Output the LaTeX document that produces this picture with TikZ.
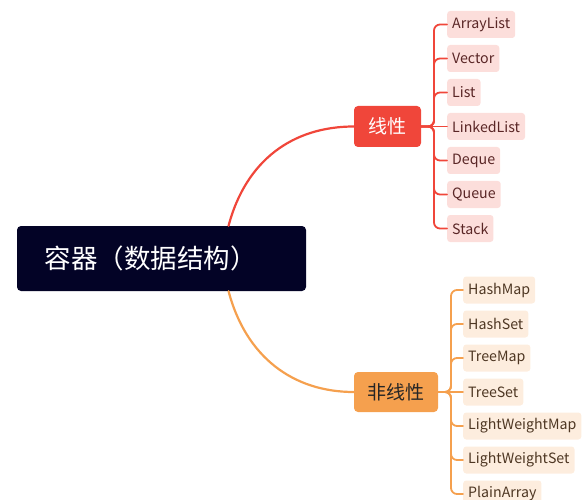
\documentclass[tikz,border=0pt]{standalone}
\usepackage{fontspec}
\setmainfont{Noto Sans CJK SC}
\usepackage{tikz}
\usetikzlibrary{positioning}
\definecolor{rootblue}{RGB}{3,3,38}
\definecolor{linred}{RGB}{240,70,58}
\definecolor{linpink}{RGB}{252,222,219}
\definecolor{lintext}{RGB}{90,38,38}
\definecolor{nonorange}{RGB}{245,160,78}
\definecolor{nonpeach}{RGB}{253,237,222}
\definecolor{nontext}{RGB}{78,55,35}

\begin{document}
\begin{tikzpicture}[x=1pt,y=-1pt, line cap=round,
    rootbox/.style={fill=rootblue,text=white,rounded corners=4pt,minimum width=289pt,minimum height=65pt,inner xsep=28pt,text width=233pt,align=left,font=\fontsize{26.5}{30}\selectfont},
    linbox/.style={fill=linred,text=white,rounded corners=4pt,minimum width=67pt,minimum height=41pt,font=\fontsize{19}{22}\selectfont},
    nonbox/.style={fill=nonorange,text=black!85,rounded corners=4pt,minimum width=84pt,minimum height=40pt,font=\fontsize{19}{22}\selectfont},
    leafr/.style={fill=linpink,text=lintext,anchor=west,rounded corners=3pt,minimum height=27pt,inner xsep=5pt,font=\fontsize{14.2}{17}\selectfont},
    leafo/.style={fill=nonpeach,text=nontext,anchor=west,rounded corners=3pt,minimum height=27pt,inner xsep=5pt,font=\fontsize{14.2}{17}\selectfont},
    redline/.style={draw=linred,line width=1.8pt,rounded corners=6pt},
    orangeline/.style={draw=nonorange,line width=1.8pt,rounded corners=6pt}]
        \clip (0,0) rectangle (584,500);
        \node[rootbox]   (root)   at (161.5,258.5) {容器（数据结构）};
        \node[linbox]    (lin)    at (387.5,126.5) {线性};
        \node[nonbox]    (nonlin) at (396,392)     {非线性};
        \coordinate      (lj)     at (434,126.5);
        \coordinate      (nj)     at (451,392);
        % linear leaves
        \node[leafr] (l_1) at (447,24.5)  {ArrayList};
        \node[leafr] (l_2) at (447,58.5)  {Vector};
        \node[leafr] (l_3) at (447,92.5)  {List};
        \node[leafr] (l_4) at (447,126.5) {LinkedList};
        \node[leafr] (l_5) at (447,160.5) {Deque};
        \node[leafr] (l_6) at (447,194.5) {Queue};
        \node[leafr] (l_7) at (447,228.5) {Stack};
        % non-linear leaves
        \node[leafo] (n_1) at (463,290) {HashMap};
        \node[leafo] (n_2) at (463,324) {HashSet};
        \node[leafo] (n_3) at (463,358) {TreeMap};
        \node[leafo] (n_4) at (463,392) {TreeSet};
        \node[leafo] (n_5) at (463,426) {LightWeightMap};
        \node[leafo] (n_6) at (463,460) {LightWeightSet};
        \node[leafo] (n_7) at (463,494) {PlainArray};
        % main branches
        \draw[draw=linred,line width=2.2pt] (root.26) .. controls (246,160) and (293,126.5) .. (lin.west);
        \draw[draw=nonorange,line width=2.2pt] (root.-26) .. controls (246,357) and (293,392) .. (nonlin.west);
        \draw[redline] (lin.east) -- (lj) |- (l_1.west);
        \draw[redline] (lin.east) -- (lj) |- (l_2.west);
        \draw[redline] (lin.east) -- (lj) |- (l_3.west);
        \draw[redline] (lin.east) -- (l_4.west);
        \draw[redline] (lin.east) -- (lj) |- (l_5.west);
        \draw[redline] (lin.east) -- (lj) |- (l_6.west);
        \draw[redline] (lin.east) -- (lj) |- (l_7.west);
        \draw[orangeline] (nonlin.east) -- (nj) |- (n_1.west);
        \draw[orangeline] (nonlin.east) -- (nj) |- (n_2.west);
        \draw[orangeline] (nonlin.east) -- (nj) |- (n_3.west);
        \draw[orangeline] (nonlin.east) -- (n_4.west);
        \draw[orangeline] (nonlin.east) -- (nj) |- (n_5.west);
        \draw[orangeline] (nonlin.east) -- (nj) |- (n_6.west);
        \draw[orangeline] (nonlin.east) -- (nj) |- (n_7.west);
\end{tikzpicture}
\end{document}
